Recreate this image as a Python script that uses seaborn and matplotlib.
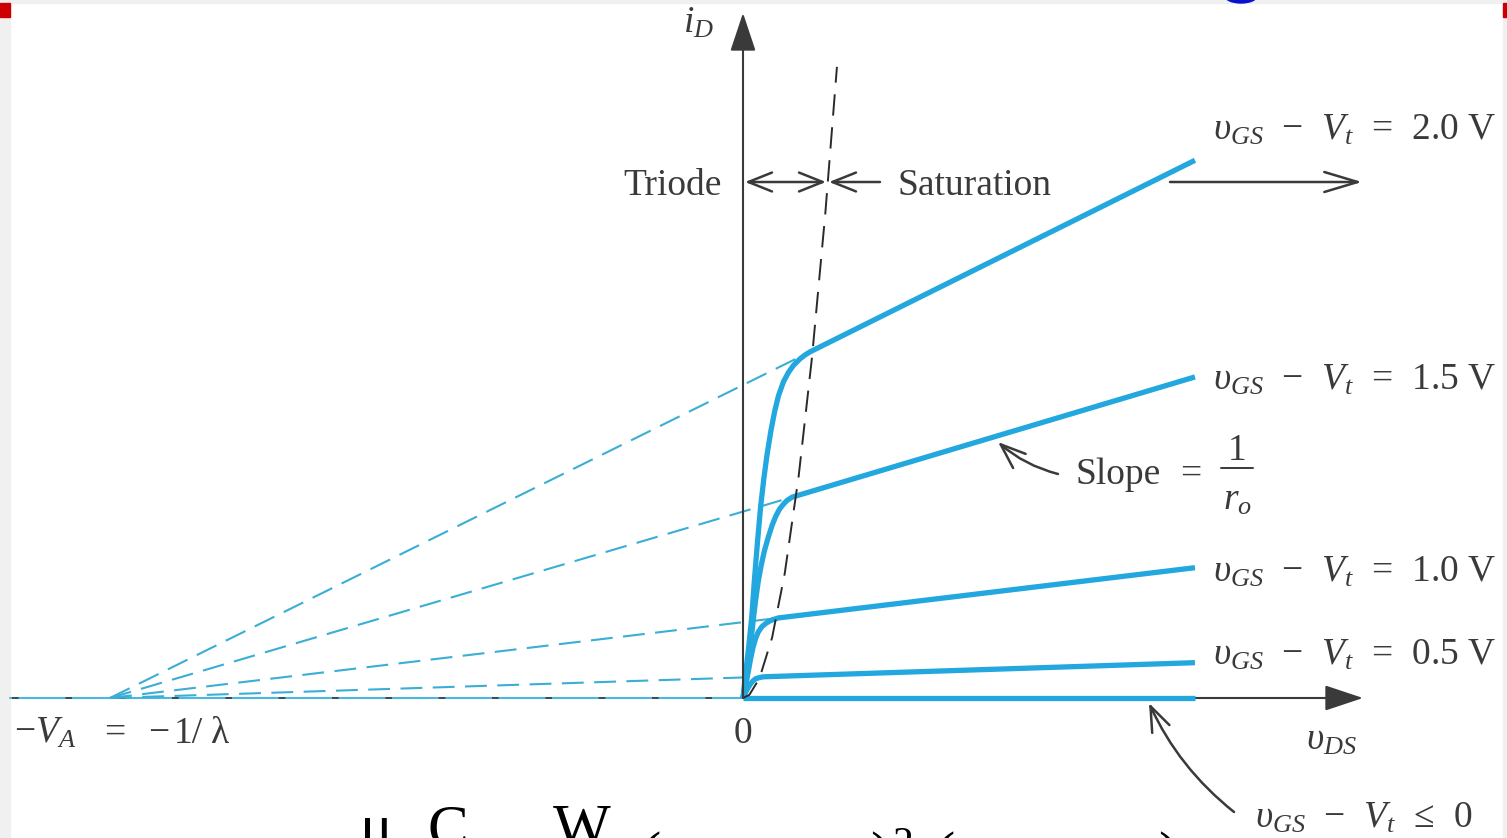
import numpy as np
import pandas as pd
import matplotlib
matplotlib.use("Agg")
import matplotlib.pyplot as plt
import seaborn as sns
from matplotlib.patches import Rectangle, Ellipse
from matplotlib.transforms import IdentityTransform

# ---------------- data (vDS in V, iD in mA) ----------------
V_A = 5.0
CURVE_NAMES = ["2.0", "1.5", "1.0", "0.5", "0"]
VDS_20 = [0, 0.02, 0.045, 0.07, 0.09, 0.115, 0.14, 0.165, 0.19, 0.22, 0.25, 0.28, 0.32, 0.36, 0.40, 0.45, 0.49, 0.53, 3.57]
ID_20 = [0, 0.30, 0.65, 1.05, 1.50, 2.00, 2.45, 2.80, 3.10, 3.40, 3.65, 3.85, 4.03, 4.15, 4.24, 4.32, 4.37, 4.41, 6.85]
VDS_15 = [0, 0.02, 0.04, 0.06, 0.08, 0.10, 0.12, 0.145, 0.17, 0.20, 0.23, 0.26, 0.29, 0.32, 0.35, 0.39, 3.57]
ID_15 = [0, 0.20, 0.42, 0.68, 0.98, 1.25, 1.48, 1.70, 1.88, 2.05, 2.20, 2.32, 2.41, 2.47, 2.52, 2.56, 4.09]
VDS_10 = [0, 0.02, 0.04, 0.06, 0.08, 0.10, 0.12, 0.15, 0.18, 0.21, 0.24, 0.28, 3.57]
ID_10 = [0, 0.15, 0.32, 0.50, 0.65, 0.76, 0.84, 0.91, 0.95, 0.98, 1.00, 1.02, 1.66]
VDS_05 = [0, 0.02, 0.04, 0.06, 0.08, 0.10, 0.13, 0.16, 3.57]
ID_05 = [0, 0.07, 0.13, 0.18, 0.22, 0.245, 0.26, 0.27, 0.45]
VDS_00 = [0, 3.57]
ID_00 = [0, 0]
BOUNDARY_VDS = [0, 0.05, 0.13, 0.23, 0.33, 0.44, 0.545, 0.65, 0.742]
BOUNDARY_ID = [0, 0.04, 0.25, 0.77, 1.59, 2.83, 4.34, 6.17, 8.04]
LABEL_TEXT = ["2.0 V", "1.5 V", "1.0 V", "0.5 V"]

VDS_LIST = [VDS_20, VDS_15, VDS_10, VDS_05, VDS_00]
ID_LIST = [ID_20, ID_15, ID_10, ID_05, ID_00]

# ---------------- style ----------------
sns.set_theme(style="white")
plt.rcParams['font.family'] = ['Liberation Serif', 'DejaVu Serif']
plt.rcParams['mathtext.fontset'] = 'custom'
plt.rcParams['mathtext.rm'] = 'Liberation Serif'
plt.rcParams['mathtext.it'] = 'Liberation Serif:italic'
plt.rcParams['mathtext.bf'] = 'Liberation Serif:bold'

BLUE = '#22a7df'
BLUE_D = '#3aaed4'
GRAY = '#3a3a3a'
FS = 27

W, H = 1507, 838
fig = plt.figure(figsize=(W / 100, H / 100), dpi=100)
fig.patch.set_facecolor('white')
ax = fig.add_axes([0, 0, 1, 1])
ax.set_axis_off()
ax.patch.set_alpha(0)
OX, OY = 743, 698
SX, SY = 126.6, 78.5
ax.set_xlim(-OX / SX, (W - OX) / SX)
ax.set_ylim(-(H - OY) / SY, OY / SY)


def P(x, y):
    return (x, H - y)


def X(px):
    return (px - OX) / SX


def Y(py):
    return (OY - py) / SY


# page decorations
idt = IdentityTransform()
for r in [Rectangle((0, 0), 10, H, color='#f0f0f0', transform=idt, zorder=-5),
          Rectangle((0, H - 3), W, 3, color='#f0f0f0', transform=idt, zorder=-5),
          Rectangle((W - 4, 0), 4, H, color='#f0f0f0', transform=idt, zorder=-5),
          Rectangle((0, H - 17), 10, 14, color='#cc0000', transform=idt, zorder=-4),
          Rectangle((W - 4, H - 17), 4, 14, color='#cc0000', transform=idt, zorder=-4),
          Ellipse((1241, H + 4), 32, 14, color='#0a10d0', transform=idt, zorder=-4)]:
    fig.add_artist(r)

# ---------------- negative axis ----------------
ax.plot([X(10), 0], [0, 0], color='#4ab8e0', lw=1.5, zorder=1)
ln, = ax.plot([X(12), 0], [0, 0], color=GRAY, lw=1.2, zorder=1.5)
ln.set_dashes([4, 28])

# ---------------- dashed extensions ----------------
rows = []
for name, v, i in zip(CURVE_NAMES[:4], VDS_LIST[:4], ID_LIST[:4]):
    rows.append((name, -V_A, 0.0))
    rows.append((name, v[-2], i[-2]))
ext = pd.DataFrame(rows, columns=['vov', 'vds', 'id'])
n0 = len(ax.lines)
sns.lineplot(data=ext, x='vds', y='id', units='vov', estimator=None, sort=False,
             color=BLUE_D, linewidth=1.5, ax=ax, legend=False)
for l in ax.lines[n0:]:
    l.set_dashes([10.5, 5])
    l.set_zorder(2)

# ---------------- saturation boundary ----------------
bnd = pd.DataFrame({'vds': BOUNDARY_VDS, 'id': BOUNDARY_ID})
n0 = len(ax.lines)
sns.lineplot(data=bnd, x='vds', y='id', estimator=None, sort=False,
             color='#2a2a2a', linewidth=1.4, ax=ax, legend=False)
for l in ax.lines[n0:]:
    l.set_dashes([11, 6])
    l.set_zorder(4)

# ---------------- characteristic curves ----------------
rows = []
for name, v, i in zip(CURVE_NAMES, VDS_LIST, ID_LIST):
    for a, b in zip(v, i):
        rows.append((name, a, b))
df = pd.DataFrame(rows, columns=['vov', 'vds', 'id'])
n0 = len(ax.lines)
sns.lineplot(data=df, x='vds', y='id', units='vov', estimator=None, sort=False,
             color=BLUE, linewidth=3.8, ax=ax, legend=False)
for l in ax.lines[n0:]:
    l.set_solid_capstyle('butt')
    l.set_solid_joinstyle('round')
    l.set_zorder(3)

# ---------------- axes arrows ----------------
ax.annotate('', xy=(0, Y(13)), xytext=(0, 0),
            arrowprops=dict(arrowstyle='-|>,head_length=0.6,head_width=0.2', color=GRAY,
                            lw=1.5, mutation_scale=40, shrinkA=0, shrinkB=0), zorder=5)
ax.annotate('', xy=(X(1363), 0), xytext=(0, 0),
            arrowprops=dict(arrowstyle='-|>,head_length=0.6,head_width=0.2', color=GRAY,
                            lw=1.5, mutation_scale=40, shrinkA=0, shrinkB=0), zorder=2.5)


def arrow(x0, y0, x1, y1, style, rad=0.0, ms=20):
    ax.annotate('', xy=P(x1, y1), xycoords='figure pixels',
                xytext=P(x0, y0), textcoords='figure pixels',
                arrowprops=dict(arrowstyle=style, color=GRAY, lw=1.8, mutation_scale=ms,
                                shrinkA=0, shrinkB=0,
                                connectionstyle=f'arc3,rad={rad}'), zorder=6)


arrow(745, 182, 826, 182, '<->,head_length=0.85,head_width=0.34')
arrow(880, 182, 829, 182, '->,head_length=0.85,head_width=0.34')
arrow(1170, 182, 1362, 182, '->,head_length=1.2,head_width=0.36')
arrow(1058, 474, 998, 442, '->,head_length=0.9,head_width=0.34', rad=-0.12)
arrow(1234, 812, 1149, 703, '->,head_length=0.9,head_width=0.34', rad=-0.12)


def txt(s, x, y, ha='left', fs=FS, color=GRAY, **kw):
    ax.annotate(s, xy=P(x, y), xycoords='figure pixels', ha=ha, va='baseline',
                fontsize=fs, color=color, annotation_clip=False, **kw)


txt(r'$i_D$', 683, 33)
txt('Triode', 722, 195, ha='right')
txt('Saturation', 897, 195)
txt('0', 743, 743, ha='center')
txt('−$V_A$', 14, 743)
txt('=', 104, 743)
txt('−', 148, 743)
txt('1/', 174, 743)
txt('λ', 211, 743)
txt(r'$\upsilon_{DS}$', 1306, 750)
txt('Slope', 1075, 484)
txt('=', 1180, 484)
txt('1', 1237, 460, ha='center')
txt(r'$r_o$', 1237, 510, ha='center')
ax.annotate('', xy=P(1253, 468), xycoords='figure pixels', xytext=P(1221, 468),
            textcoords='figure pixels',
            arrowprops=dict(arrowstyle='-', color=GRAY, lw=1.4, shrinkA=0, shrinkB=0))

LABEL_BASE = [140, 390, 582, 665]
for lab, yb in zip(LABEL_TEXT, LABEL_BASE):
    txt(r'$\upsilon_{GS}$  −  $V_t$  =  ' + lab, 1213, yb)
txt(r'$\upsilon_{GS}$  −  $V_t$  ≤  0', 1255, 828)

# clipped formula at the bottom edge
for s, x, yb, fs in [('μ', 360, 846, 44), ('C', 427, 846, 44), ('W', 553, 846, 44),
                     ('(', 640, 874, 44), (')', 870, 874, 44), ('2', 892, 856, 30),
                     ('(', 934, 874, 44), (')', 1158, 874, 44)]:
    txt(s, x, yb, fs=fs, color='black')

fig.savefig('out.png', dpi=100)
